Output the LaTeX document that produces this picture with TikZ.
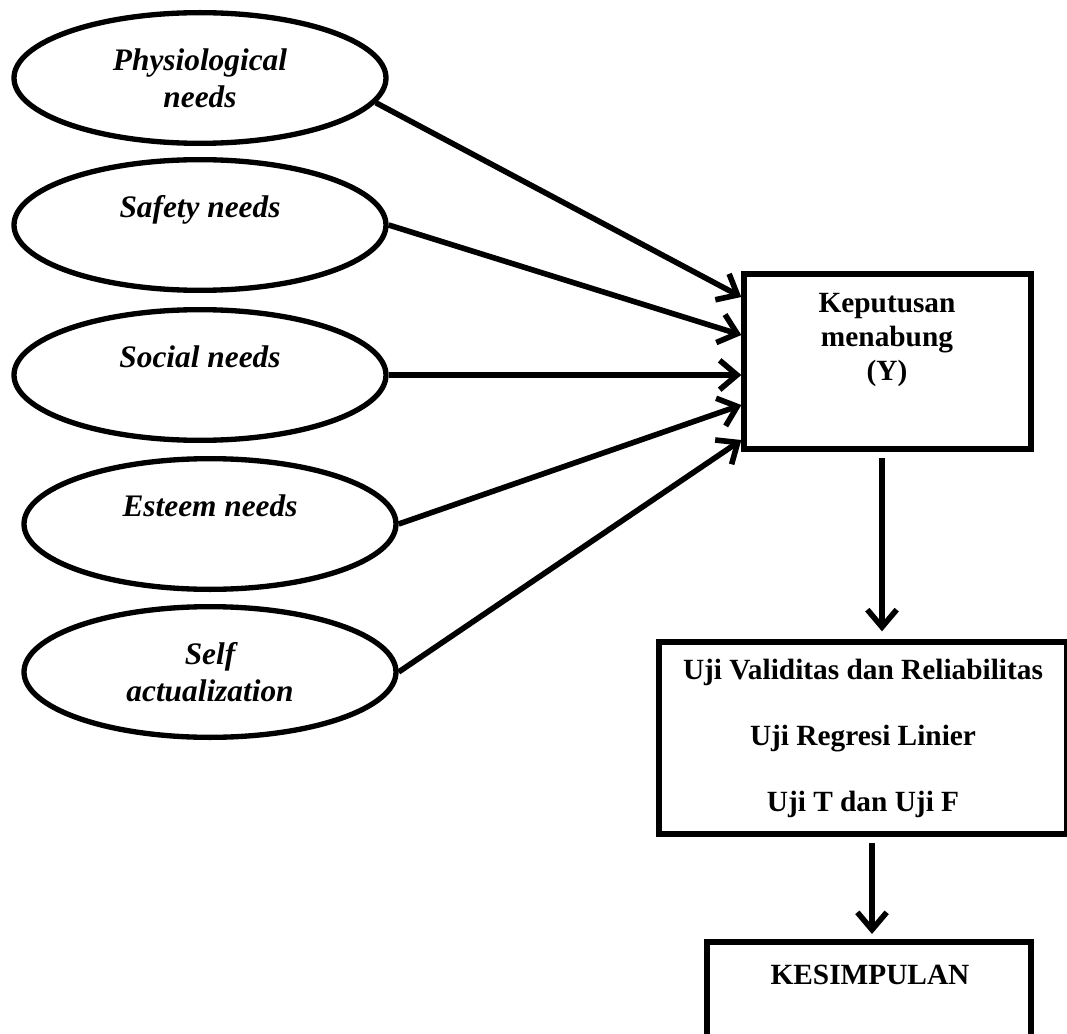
\documentclass[tikz,border=0pt]{standalone}
\usepackage{fontspec}
\setmainfont{Liberation Serif}
\usetikzlibrary{shapes.geometric,arrows.meta,calc}
\begin{document}
\begin{tikzpicture}[x=0.75pt,y=-0.75pt,
 need/.style={draw, ellipse, line width=4pt, minimum width=279pt, minimum height=98pt, inner sep=0pt, align=center, font=\fontsize{23.5}{27.75}\selectfont\bfseries\itshape},
 boxnode/.style={draw, rectangle, line width=4pt, inner sep=0pt},
 btext/.style={font=\fontsize{22}{25.5}\selectfont\bfseries, align=center},
 arr/.style={line width=4.2pt, -{Straight Barb[length=13pt,width=22pt]}}]
\useasboundingbox (0,0) rectangle (1067,1034);
\node[need] (phys) at (200,78) {Physiological\\needs};
\node[need] (safe) at (200,225) {Safety needs\\\mbox{}};
\node[need] (soc) at (200,375) {Social needs\\\mbox{}};
\node[need] (est) at (210,524) {Esteem needs\\\mbox{}};
\node[need] (self) at (210,672) {Self\\actualization};
\node[boxnode, minimum width=215.25pt, minimum height=131.25pt] (ybox) at (887.5,361.5) {};
\node[btext] (ytext) at (887,340) {Keputusan\\menabung\\(Y)};
\node[boxnode, btext, font=\fontsize{22}{49.5}\selectfont\bfseries, minimum width=306pt, minimum height=144pt] (val) at (863,738) {Uji Validitas dan Reliabilitas\\Uji Regresi Linier\\Uji T dan Uji F};
\node[boxnode, minimum width=243pt, minimum height=99.75pt] (kes) at (869,1008.5) {};
\node[btext] (kestext) at (870,975) {KESIMPULAN};
\draw[arr] (phys.-8) -- ($(ybox.west)+(0,-64.5)$);
\draw[arr] (safe.east) -- ($(ybox.west)+(0,-26.5)$);
\draw[arr] (soc.east) -- ($(ybox.west)+(0,13.5)$);
\draw[arr] (est.east) -- ($(ybox.west)+(0,43.5)$);
\draw[arr] (self.east) -- ($(ybox.west)+(0,78.5)$);
\coordinate (a1) at ($(ybox.south)+(-5.5,0)$);
\draw[arr, shorten <=5pt, shorten >=6pt] (a1) -- (a1 |- val.north);
\coordinate (a2) at ($(val.south)+(9,0)$);
\draw[arr, shorten <=5pt, shorten >=4pt] (a2) -- (a2 |- kes.north);
\end{tikzpicture}
\end{document}
